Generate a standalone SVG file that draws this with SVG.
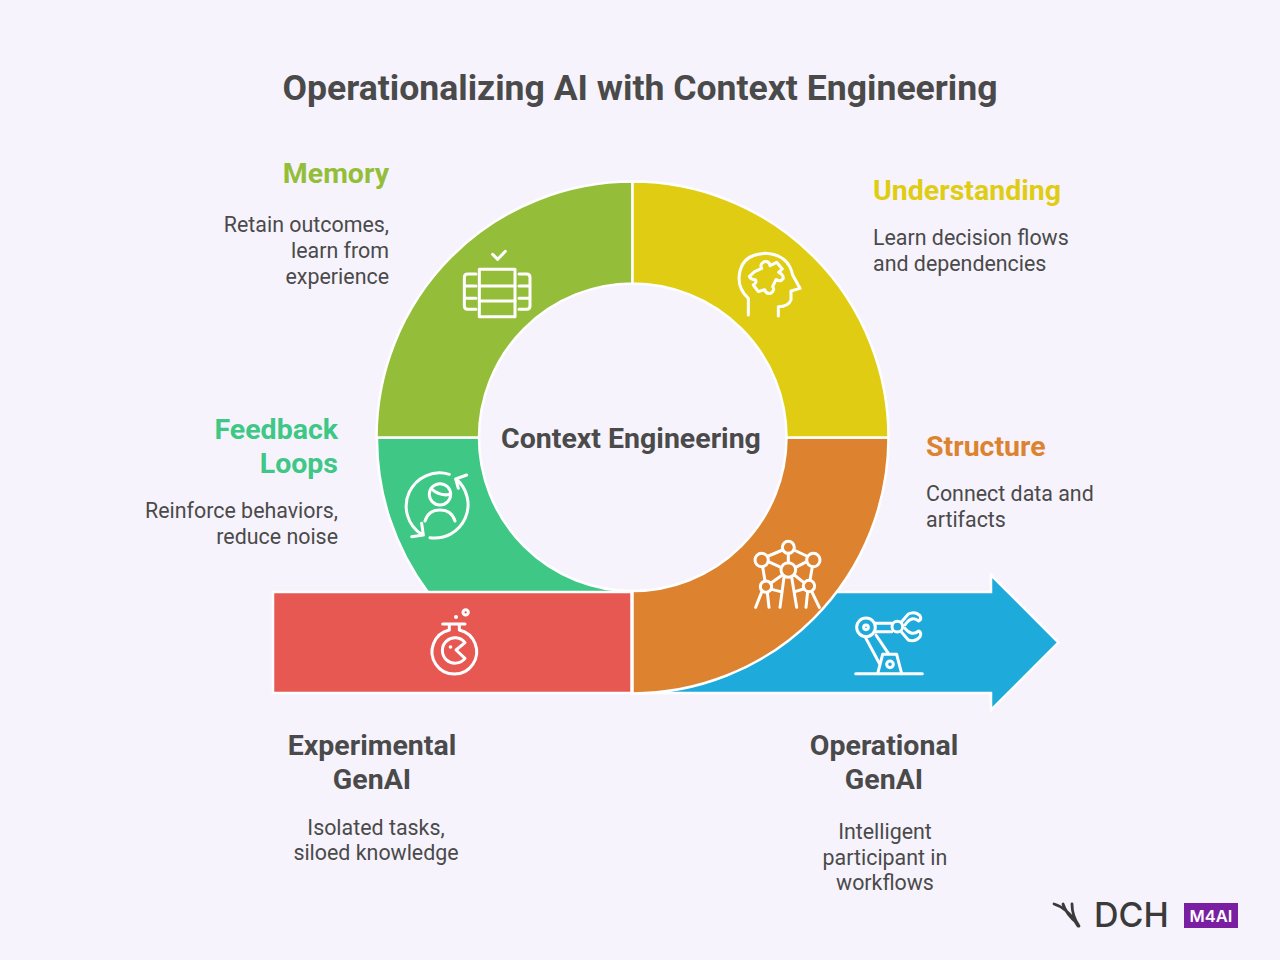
<svg xmlns="http://www.w3.org/2000/svg" width="1280" height="960" viewBox="0 0 1280 960">
<style>
text{font-family:Roboto,"Liberation Sans",sans-serif;fill:#4a4a4a}
.h{font-size:28.500px;font-weight:700}
.b{font-size:21.400px;font-weight:400}
.s{stroke:#fff;stroke-width:2.500;stroke-linejoin:miter}
.i{fill:none;stroke:#fff;stroke-width:9;stroke-linecap:round;stroke-linejoin:round}
.e{text-anchor:end}.m{text-anchor:middle}
</style>
<rect width="1280" height="960" fill="#f6f3fd"/>
<text id="title" x="640" y="99.500" class="m" font-size="35.600" font-weight="700">Operationalizing AI with Context Engineering</text>
<g id="connectors"/>
<g id="operational">
<path class="s" fill="#1eabdc" d="M640 693H991V710L1058.500 642.500L991 575V592H800Z"/>
<g class="i" transform="translate(840 595) scale(.3333)">
<path d="M47 236H247"/><circle cx="78" cy="97" r="28"/><circle cx="78" cy="97" r="7"/><path d="M105 85H155M105 110H155M75 125L118 205M108 120L145 175"/><circle cx="172" cy="95" r="16"/><path d="M128 178H170L185 236M128 178L113 236"/><circle cx="150" cy="208" r="10"/>
<path d="M185 80L205 57Q225 47 240 62Q246 72 236 78Q215 60 195 90M185 112L205 135Q225 142 240 125Q246 112 236 108Q215 125 195 100"/>
</g>
<text x="884" y="754.500" class="h m">Operational</text><text x="884" y="788.500" class="h m">GenAI</text>
<text x="885" y="839" class="b m">Intelligent</text><text x="885" y="865" class="b m">participant in</text><text x="885" y="890" class="b m">workflows</text>
</g>
<g id="feedback">
<path class="s" fill="#3ec785" d="M377 437.500H479A153.500 153.500 0 0 0 632.500 591V593H428.500A256 256 0 0 1 377 437.500Z"/>
<g class="i" transform="translate(390 455) scale(.3333)">
<path d="M178 58A100 100 0 0 0 95 238M65 245L100 240L95 205"/><path d="M120 248A100 100 0 0 0 198 72M230 60L197 72L205 100"/>
<circle cx="150" cy="118" r="32"/><path d="M124 102Q150 125 180 118M105 198Q115 165 150 165Q185 165 195 198"/>
</g>
<text x="338" y="438.500" class="h e" style="fill:#3ec785">Feedback</text><text x="338" y="472.500" class="h e" style="fill:#3ec785">Loops</text>
<text x="338" y="518" class="b e">Reinforce behaviors,</text><text x="338" y="544" class="b e">reduce noise</text>
</g>
<g id="experimental">
<rect class="s" fill="#e85853" x="273" y="592" width="358.500" height="101"/>
<g class="i" transform="translate(410 595) scale(.3333)">
<path d="M98 87H165M118 87V105A67 67 0 1 0 148 105V87"/><path d="M165 143A38 38 0 1 0 165 190L138 165Z"/><circle cx="167" cy="52" r="8"/>
</g>
<circle cx="456" cy="617" r="2" fill="#fff"/><circle cx="450.500" cy="647" r="1.800" fill="#fff"/>
<text x="372" y="754.500" class="h m">Experimental</text><text x="372" y="788.500" class="h m">GenAI</text>
<text x="376" y="835" class="b m">Isolated tasks,</text><text x="376" y="860" class="b m">siloed knowledge</text>
</g>
<g id="structure">
<path class="s" fill="#dd8330" d="M786.500 437.500H888.500A256 256 0 0 1 632.500 693.500V591A154 154 0 0 0 786.500 437.500Z"/>
<g class="i" transform="translate(740 530) scale(.3333)">
<circle cx="145" cy="120" r="22"/><circle cx="145" cy="52" r="18"/><circle cx="65" cy="90" r="20"/><circle cx="220" cy="90" r="20"/><circle cx="78" cy="170" r="17"/><circle cx="207" cy="168" r="17"/>
<path d="M128 60L85 78M162 60L200 78M145 70V98M85 95L123 112M200 95L167 112M68 110L75 153M217 110L210 151M127 135L92 160M163 135L192 158M65 186L47 232M82 187L87 232M132 142L120 232M155 142L170 232M203 185L198 232M215 184L238 232M95 178L122 185M165 185L190 177"/>
</g>
<text x="926" y="456" class="h" style="fill:#dd8330">Structure</text>
<text x="926" y="501" class="b">Connect data and</text><text x="926" y="527" class="b">artifacts</text>
</g>
<g id="memory">
<path class="s" fill="#94be3a" d="M376.500 437.500A256 256 0 0 1 632.500 181.500V283.500A154 154 0 0 0 479 437.500Z"/>
<g class="i" transform="translate(440 230) scale(.3333)">
<path d="M158 73L173 88L196 64"/><rect x="118" y="118" width="107" height="142"/><path d="M118 168H225M118 213H225M108 132H83Q73 132 73 142V228Q73 238 83 238H108M73 168H108M73 205H108M237 132H260Q270 132 270 142V228Q270 238 260 238H237M270 168H237M270 205H237"/>
</g>
<text x="389" y="182.500" class="h e" style="fill:#94be3a">Memory</text>
<text x="389" y="232" class="b e">Retain outcomes,</text><text x="389" y="258" class="b e">learn from</text><text x="389" y="284" class="b e">experience</text>
</g>
<g id="understanding">
<path class="s" fill="#e0cd13" d="M632.500 181.500A256 256 0 0 1 888.500 437.500H786.500A154 154 0 0 0 632.500 283.500Z"/>
<g class="i" transform="translate(720 235) scale(.3333)">
<path d="M85 240V190Q57 165 57 130Q60 58 135 55Q205 58 218 120L240 160L213 168V195Q205 215 175 215V243"/>
<path d="M125 100Q118 88 133 80Q148 78 150 92L170 82L187 102L176 112Q190 118 190 130Q182 142 168 134L158 155Q166 165 152 175Q138 178 134 164L115 170L100 150Q112 142 106 134Q92 135 88 124L104 110L125 100Z"/>
</g>
<text x="873" y="199.500" class="h" style="fill:#e0cd13">Understanding</text>
<text x="873" y="245" class="b">Learn decision flows</text><text x="873" y="271" class="b">and dependencies</text>
</g>
<g id="center"><text x="631" y="447.500" class="m" font-size="28.500" font-weight="700">Context Engineering</text></g>
<g id="logo">
<path d="M1054 904Q1068 908 1078 926M1063 904Q1066 914 1078 924M1072 904Q1072 916 1079 926" fill="none" stroke="#3a3a3a" stroke-width="2.800" stroke-linecap="round"/>
<text x="1094" y="927" font-size="34" style="fill:#3a3a3a;font-family:Inter,sans-serif" font-weight="500">DCH</text>
<rect x="1184" y="903" width="54" height="25" fill="#7b1fa2"/>
<text x="1211" y="921.500" class="m" font-size="16.500" font-weight="600" style="fill:#fff;font-family:Inter,sans-serif">M4AI</text>
</g>
</svg>
